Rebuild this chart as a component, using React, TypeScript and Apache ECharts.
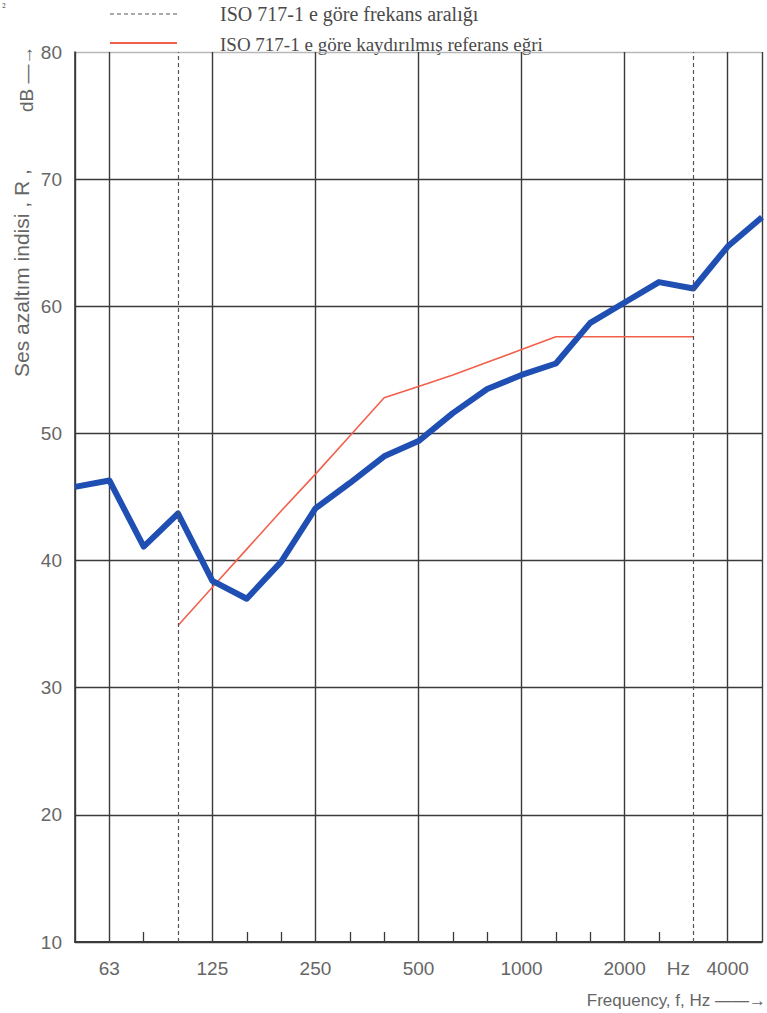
import React, { useEffect, useRef } from "react";
import * as echarts from "echarts";

const bands = ["50", "63", "80", "100", "125", "160", "200", "250", "315", "400", "500", "630", "800", "1000", "1250", "1600", "2000", "2500", "3150", "4000", "5000"];
const measured = [45.8, 46.3, 41.1, 43.7, 38.4, 37.0, 39.9, 44.1, 46.1, 48.2, 49.4, 51.6, 53.5, 54.6, 55.5, 58.7, 60.3, 61.9, 61.4, 64.7, 67.0];
const reference = [null, null, null, 34.9, 37.9, 40.9, 43.9, 46.8, 49.8, 52.8, 53.7, 54.6, 55.6, 56.6, 57.6, 57.6, 57.6, 57.6, 57.6, null, null];
const labelBands = ["63", "125", "250", "500", "1000", "2000", "3150", "4000"];
const majorBands = ["50", "63", "125", "250", "500", "1000", "2000", "4000", "5000"];
const rangeBands = ["100", "3150"];
const yTicks = { min: 10, max: 80, interval: 10 };

export default function App() {
  const ref = useRef<HTMLDivElement>(null);
  useEffect(() => {
    if (!ref.current) return;
    const chart = echarts.init(ref.current, undefined, { renderer: "svg" });
    const sans = "'Liberation Sans', Arial, sans-serif";
    const serif = "'Liberation Serif', 'Times New Roman', serif";
    const labelColor = "#666";
    chart.setOption({
      animation: false,
      backgroundColor: "#ffffff",
      grid: { left: 75, right: 5, top: 52, bottom: 71 },
      xAxis: {
        type: "category",
        data: bands,
        boundaryGap: false,
        axisLine: { show: true, lineStyle: { color: "#3a3a3a", width: 2 } },
        axisTick: {
          show: true,
          inside: true,
          length: 10,
          alignWithLabel: true,
          interval: (i: number, v: string) => !majorBands.includes(v) && !rangeBands.includes(v),
          lineStyle: { color: "#3a3a3a", width: 1.3 },
        },
        axisLabel: {
          show: true,
          interval: 0,
          margin: 17,
          color: labelColor,
          fontFamily: sans,
          fontSize: 19,
          formatter: (v: string) => {
            if (!labelBands.includes(v)) return "";
            if (v === "3150") return "{hz|Hz}";
            return v;
          },
          rich: {
            hz: { color: labelColor, fontFamily: sans, fontSize: 19, padding: [0, 30, 0, 0] },
          },
        },
        splitLine: {
          show: true,
          interval: (i: number, v: string) => majorBands.includes(v),
          lineStyle: { color: "#3a3a3a", width: 1.4 },
        },
      },
      yAxis: {
        type: "value",
        min: yTicks.min,
        max: yTicks.max,
        interval: yTicks.interval,
        axisLine: { show: true, lineStyle: { color: "#3a3a3a", width: 1.6 } },
        axisTick: { show: false },
        axisLabel: {
          margin: 13,
          color: labelColor,
          fontFamily: sans,
          fontSize: 19,
        },
        splitLine: {
          show: true,
          lineStyle: {
            color: ["#3a3a3a", "#3a3a3a", "#3a3a3a", "#3a3a3a", "#3a3a3a", "#3a3a3a", "#3a3a3a", "#b8b8b8"],
            width: 1.4,
          },
        },
      },
      series: [
        {
          type: "line",
          data: reference,
          symbol: "none",
          connectNulls: false,
          lineStyle: { color: "#f2604c", width: 1.6 },
          z: 3,
          markLine: {
            silent: true,
            symbol: "none",
            label: { show: false },
            lineStyle: { color: "#555", type: [4, 3], width: 1.2 },
            data: rangeBands.map((b) => ({ xAxis: b })),
          },
        },
        {
          type: "line",
          data: measured,
          symbol: "none",
          lineStyle: { color: "#1f4fb2", width: 6, join: "round" },
          z: 4,
        },
      ],
      graphic: [
        { type: "text", x: 2, y: 1, style: { text: "²", fontFamily: serif, fontSize: 12, fill: "#666" } },
        { type: "line", shape: { x1: 110, y1: 14, x2: 177, y2: 14 }, style: { stroke: "#555", lineWidth: 1.2, lineDash: [4, 3] } },
        { type: "text", x: 220, y: 14, style: { text: "ISO 717-1 e göre frekans aralığı", fontFamily: serif, fontSize: 20, fill: "#4a4a4a", verticalAlign: "middle" } },
        { type: "line", shape: { x1: 110, y1: 43, x2: 177, y2: 43 }, style: { stroke: "#f2604c", lineWidth: 2 } },
        { type: "text", x: 220, y: 44, style: { text: "ISO 717-1 e göre kaydırılmış referans eğri", fontFamily: serif, fontSize: 19, fill: "#4a4a4a", verticalAlign: "middle" } },
        { type: "text", x: 21, y: 377, rotation: Math.PI / 2, style: { text: "Ses azaltım indisi , R ,", fontFamily: sans, fontSize: 21, fill: labelColor, align: "left", verticalAlign: "middle" } },
        { type: "text", x: 26, y: 112, rotation: Math.PI / 2, style: { text: "dB —→", fontFamily: sans, fontSize: 19, fill: labelColor, align: "left", verticalAlign: "middle" } },
        { type: "text", x: 766, y: 1000, style: { text: "Frequency, f, Hz ——→", fontFamily: sans, fontSize: 17, fill: labelColor, align: "right", verticalAlign: "middle" } },
      ],
    });
    return () => chart.dispose();
  }, []);
  return <div ref={ref} style={{ width: 767, height: 1013, position: "absolute", left: 0, top: 0 }} />;
}
